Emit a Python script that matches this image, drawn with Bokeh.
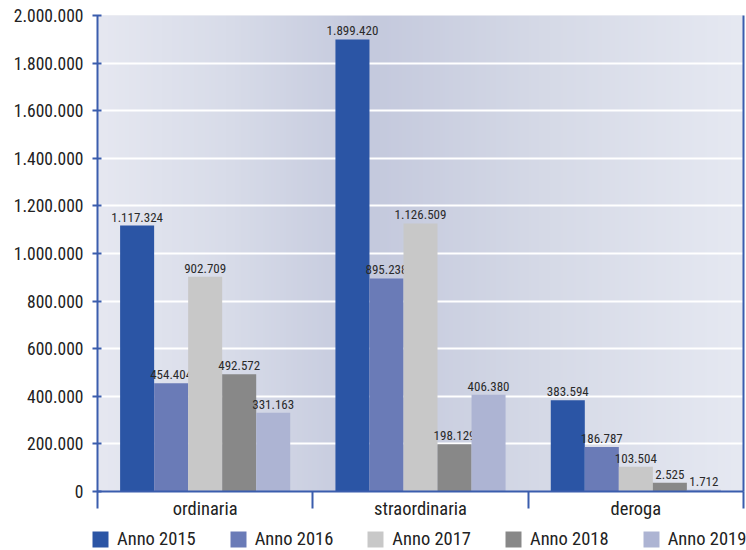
import numpy as np
from bokeh.plotting import figure
from bokeh.layouts import column
from bokeh.models import (Range1d, FixedTicker, LinearAxis, Legend, LegendItem,
                          ColumnDataSource)
from bokeh.transform import dodge
from bokeh.core.properties import value
from bokeh.embed import file_html
from bokeh.resources import INLINE

# ---------------- data ----------------
categories = ["ordinaria", "straordinaria", "deroga"]
series_names = ["Anno 2015", "Anno 2016", "Anno 2017", "Anno 2018", "Anno 2019"]
anno_2015 = [1117324, 1899420, 383594]
anno_2016 = [454404, 895238, 186787]
anno_2017 = [902709, 1126509, 103504]
anno_2018 = [492572, 198129, 37000]
anno_2019 = [331163, 406380, 7000]
labels_2015 = ["1.117.324", "1.899.420", "383.594"]
labels_2016 = ["454.404", "895.238", "186.787"]
labels_2017 = ["902.709", "1.126.509", "103.504"]
labels_2018 = ["492.572", "198.129", "2.525"]
labels_2019 = ["331.163", "406.380", "1.712"]
y_ticks = [0, 200000, 400000, 600000, 800000, 1000000, 1200000, 1400000,
           1600000, 1800000, 2000000]
y_tick_labels = ["0", "200.000", "400.000", "600.000", "800.000", "1.000.000",
                 "1.200.000", "1.400.000", "1.600.000", "1.800.000", "2.000.000"]

series_values = [anno_2015, anno_2016, anno_2017, anno_2018, anno_2019]
series_labels = [labels_2015, labels_2016, labels_2017, labels_2018, labels_2019]
colors = ["#2b55a5", "#6a7bb7", "#c8c8c8", "#888888", "#adb4d3"]
axis_color = "#3a5dad"
font = "Roboto Condensed, Liberation Sans Narrow, Roboto"

ncat = len(categories)
cat_x = [i + 0.5 for i in range(ncat)]

p = figure(width=746, height=522, x_range=Range1d(0, ncat),
           y_range=Range1d(0, 2000000), output_backend="svg",
           toolbar_location=None, min_border_left=97, min_border_right=3,
           min_border_top=15, min_border_bottom=31)
p.frame_align = False
p.outline_line_color = None
p.background_fill_color = "#dde0ea"
p.border_fill_color = "white"

# gradient background
stops_x = [0.0, 0.2, 0.42, 0.7, 1.0]
stops_c = [(230, 232, 241), (216, 220, 233), (196, 201, 221), (214, 218, 231), (230, 233, 242)]
N = 300
xs = np.linspace(0, 1, N)
img = np.zeros((1, N), dtype=np.uint32)
view = img.view(dtype=np.uint8).reshape((1, N, 4))
for k in range(3):
    view[0, :, k] = np.interp(xs, stops_x, [c[k] for c in stops_c]).astype(np.uint8)
view[0, :, 3] = 255
p.image_rgba(image=[img], x=0, y=0, dw=ncat, dh=2000000, level="image")

# grid
p.xgrid.grid_line_color = None
p.ygrid.grid_line_color = "white"
p.ygrid.grid_line_width = 2
p.ygrid.ticker = FixedTicker(ticks=y_ticks)

bar_w = 0.158
sources = []
for i, (name, vals, labs, col) in enumerate(zip(series_names, series_values, series_labels, colors)):
    src = ColumnDataSource(dict(x=cat_x, top=vals, lab=labs))
    sources.append(src)
    off = (i - 2) * bar_w
    p.vbar(x=dodge("x", off), top="top", width=bar_w, source=src,
           fill_color=col, line_color=None)
    p.text(x=dodge("x", off), y="top", text="lab", source=src,
           text_align="center", text_baseline="bottom", y_offset=-4,
           text_font=value(font), text_font_size="13px", text_color="#2a2a2a")

# x axis
xa = p.xaxis[0]
xa.ticker = FixedTicker(ticks=cat_x, minor_ticks=list(range(ncat + 1)))
xa.major_label_overrides = {cx: c for cx, c in zip(cat_x, categories)}
xa.major_tick_out = 0
xa.major_tick_in = 0
xa.minor_tick_out = 17
xa.minor_tick_in = 0
xa.minor_tick_line_color = axis_color
xa.minor_tick_line_width = 2
xa.axis_line_color = axis_color
xa.axis_line_width = 2
xa.major_label_standoff = -11
xa.major_label_text_font = font
xa.major_label_text_font_size = "18.5px"
xa.major_label_text_color = "#222222"

# y axis
ya = p.yaxis[0]
ya.ticker = FixedTicker(ticks=y_ticks)
ya.major_label_overrides = {t: l for t, l in zip(y_ticks, y_tick_labels)}
ya.major_tick_out = 5
ya.major_tick_in = 4
ya.major_tick_line_color = axis_color
ya.major_tick_line_width = 2
ya.minor_tick_line_color = None
ya.axis_line_color = axis_color
ya.axis_line_width = 2
ya.major_label_standoff = 9
ya.major_label_text_font = font
ya.major_label_text_font_size = "17.5px"
ya.major_label_text_color = "#222222"

# right border line
ra = LinearAxis(ticker=FixedTicker(ticks=[]), major_label_text_font_size="0px",
                axis_line_color=axis_color, axis_line_width=2,
                major_tick_line_color=None, minor_tick_line_color=None)
p.add_layout(ra, "right")

# ---------------- legend strip ----------------
# the strip's ranges exclude the data, so only the legend swatches show
pl = figure(width=746, height=28, x_range=Range1d(-20, -10), y_range=Range1d(-20, -10),
            output_backend="svg", toolbar_location=None,
            min_border_left=0, min_border_right=0, min_border_top=0, min_border_bottom=0)
pl.frame_align = False
pl.outline_line_color = None
pl.xaxis.visible = False
pl.yaxis.visible = False
pl.xgrid.visible = False
pl.ygrid.visible = False
leg_renderers = [pl.vbar(x="x", top="top", width=0.1, source=s,
                         fill_color=c, line_color=None)
                 for s, c in zip(sources, colors)]
legend = Legend(items=[LegendItem(label=n, renderers=[r]) for n, r in zip(series_names, leg_renderers)],
                orientation="horizontal", glyph_width=20, glyph_height=20,
                label_standoff=7, spacing=32, padding=0, margin=0,
                border_line_color=None, background_fill_alpha=0,
                label_text_font=font, label_text_font_size="18.5px",
                label_text_color="#222222", label_height=20, location=(90, 0))
pl.add_layout(legend)

open("out.html", "w").write(file_html(column(p, pl, spacing=0), INLINE))
